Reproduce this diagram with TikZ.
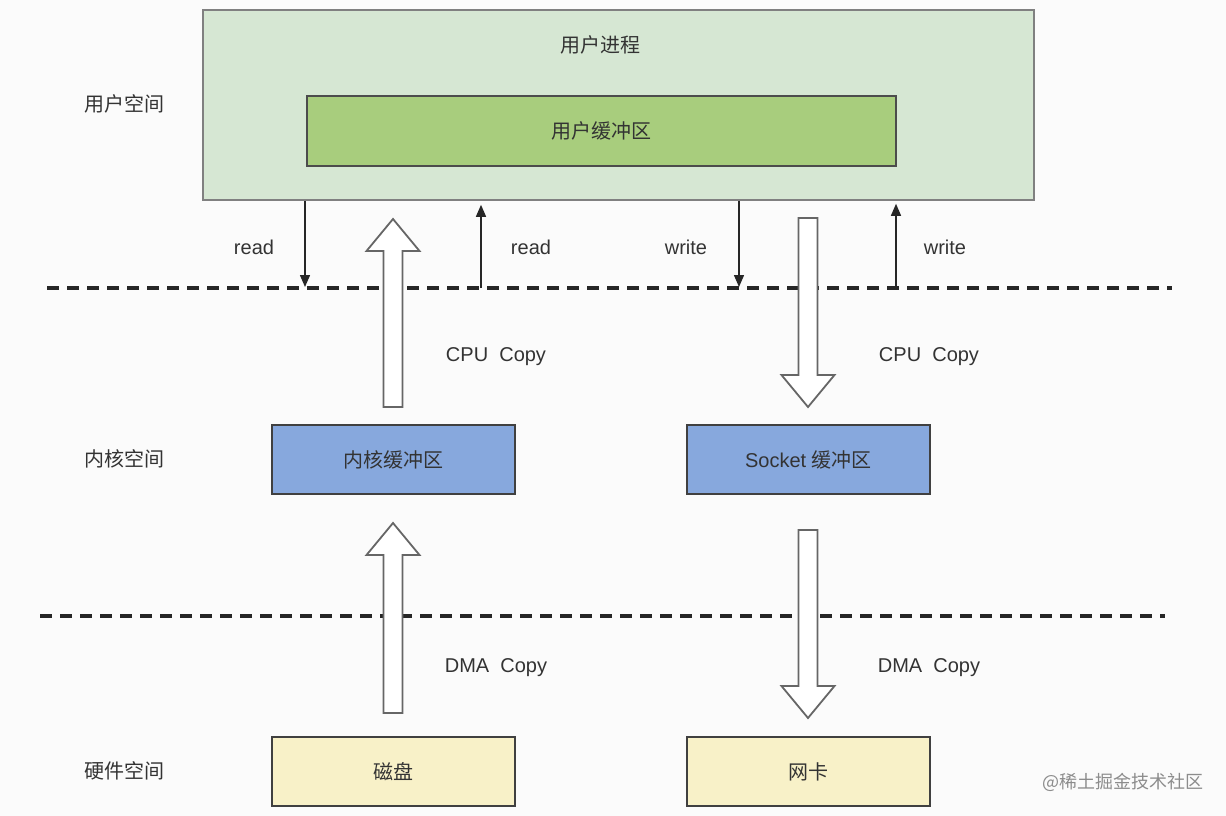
\documentclass[tikz,border=0pt]{standalone}
\usepackage{fontspec}
\setmainfont{Liberation Sans}
\newfontfamily\cjk{Noto Sans CJK SC}
\usetikzlibrary{arrows.meta}
\definecolor{outerfill}{HTML}{D6E7D3}
\definecolor{innerfill}{HTML}{A8CD7D}
\definecolor{bluefill}{HTML}{87A8DD}
\definecolor{yellowfill}{HTML}{F8F1C8}
\definecolor{txt}{HTML}{333333}
\definecolor{bggray}{HTML}{FBFBFB}
\tikzset{
  box/.style={draw=black!75, line width=1.6pt, rectangle, minimum width=243pt, minimum height=69pt, inner sep=0pt, text=txt, font=\fontsize{20}{24}\selectfont},
  lbl/.style={text=txt, font=\fontsize{20}{24}\selectfont, inner sep=0pt},
  dashline/.style={line width=3.2pt, black!85, dash pattern=on 12pt off 8pt},
  thinarr/.style={line width=1.4pt, black!85, -{Triangle[length=12pt,width=10pt]}},
  bigarr/.style={draw=black!60, line width=1.8pt, fill=white, line join=miter},
}
\newcommand\hollowup[3]{%
  \draw[bigarr] ({#1-9.5},#2) -- ({#1-9.5},{#3+32}) -- ({#1-26.5},{#3+32}) -- (#1,#3)
    -- ({#1+26.5},{#3+32}) -- ({#1+9.5},{#3+32}) -- ({#1+9.5},#2) -- cycle;}
\newcommand\hollowdown[3]{%
  \draw[bigarr] ({#1-9.5},#2) -- ({#1-9.5},{#3-32}) -- ({#1-26.5},{#3-32}) -- (#1,#3)
    -- ({#1+26.5},{#3-32}) -- ({#1+9.5},{#3-32}) -- ({#1+9.5},#2) -- cycle;}
\begin{document}
\begin{tikzpicture}[x=1pt,y=-1pt]
\fill[bggray] (0,0) rectangle (1226,816);
\useasboundingbox (0,0) rectangle (1226,816);

% user space boxes
\node[box, draw=black!50, fill=outerfill, minimum width=831pt, minimum height=190pt] (outer) at (618.5,105) {};
\node[lbl] (title) at (600,45) {\cjk 用户进程};
\node[box, draw=black!70, fill=innerfill, minimum width=589pt, minimum height=70pt] (ubuf) at (601.5,131) {\cjk 用户缓冲区};

% kernel boxes
\node[box, fill=bluefill] (kbuf) at (393.5,459.5) {\cjk 内核缓冲区};
\node[box, fill=bluefill] (sbuf) at (808.5,459.5) {Socket {\cjk 缓冲区}};

% hardware boxes
\node[box, fill=yellowfill] (disk) at (393.5,771.5) {\cjk 磁盘};
\node[box, fill=yellowfill] (nic) at (808.5,771.5) {\cjk 网卡};

% space labels
\node[lbl] (lu) at (124,104) {\cjk 用户空间};
\node[lbl] (lk) at (124,459) {\cjk 内核空间};
\node[lbl] (lh) at (124,771) {\cjk 硬件空间};

% dashed boundaries
\coordinate (d1l) at (47,288);
\coordinate (d1r) at (1172,288);
\coordinate (d2l) at (40,616);
\coordinate (d2r) at (1165,616);
\draw[dashline] (d1l) -- (d1r);
\draw[dashline] (d2l) -- (d2r);

% thin read/write arrows
\coordinate (r1) at (305,287);
\coordinate (r2) at (481,288);
\coordinate (w1) at (739,287);
\coordinate (w2) at (896,288);
\draw[thinarr] (outer.south -| r1) -- (r1);
\draw[thinarr, shorten >=4pt] (r2) -- (outer.south -| r2);
\draw[thinarr] (outer.south -| w1) -- (w1);
\draw[thinarr, shorten >=3pt] (w2) -- (outer.south -| w2);
\node[lbl] (t1) at (254,247) {read};
\node[lbl] (t2) at (531,247) {read};
\node[lbl] (t3) at (686,247) {write};
\node[lbl] (t4) at (945,247) {write};

% hollow copy arrows
\hollowup{393}{407}{219}
\hollowdown{808}{218}{407}
\hollowup{393}{713}{523}
\hollowdown{808}{530}{718}

\node[lbl] (c1) at (496,357) {CPU\ \ Copy};
\node[lbl] (c2) at (929,357) {CPU\ \ Copy};
\node[lbl] (m1) at (496,668) {DMA\ \ Copy};
\node[lbl] (m2) at (929,668) {DMA\ \ Copy};

% watermark
\node[lbl, text=black!45, font=\fontsize{18}{22}\selectfont] (wm) at (1123,782) {\cjk @稀土掘金技术社区};
\end{tikzpicture}
\end{document}
